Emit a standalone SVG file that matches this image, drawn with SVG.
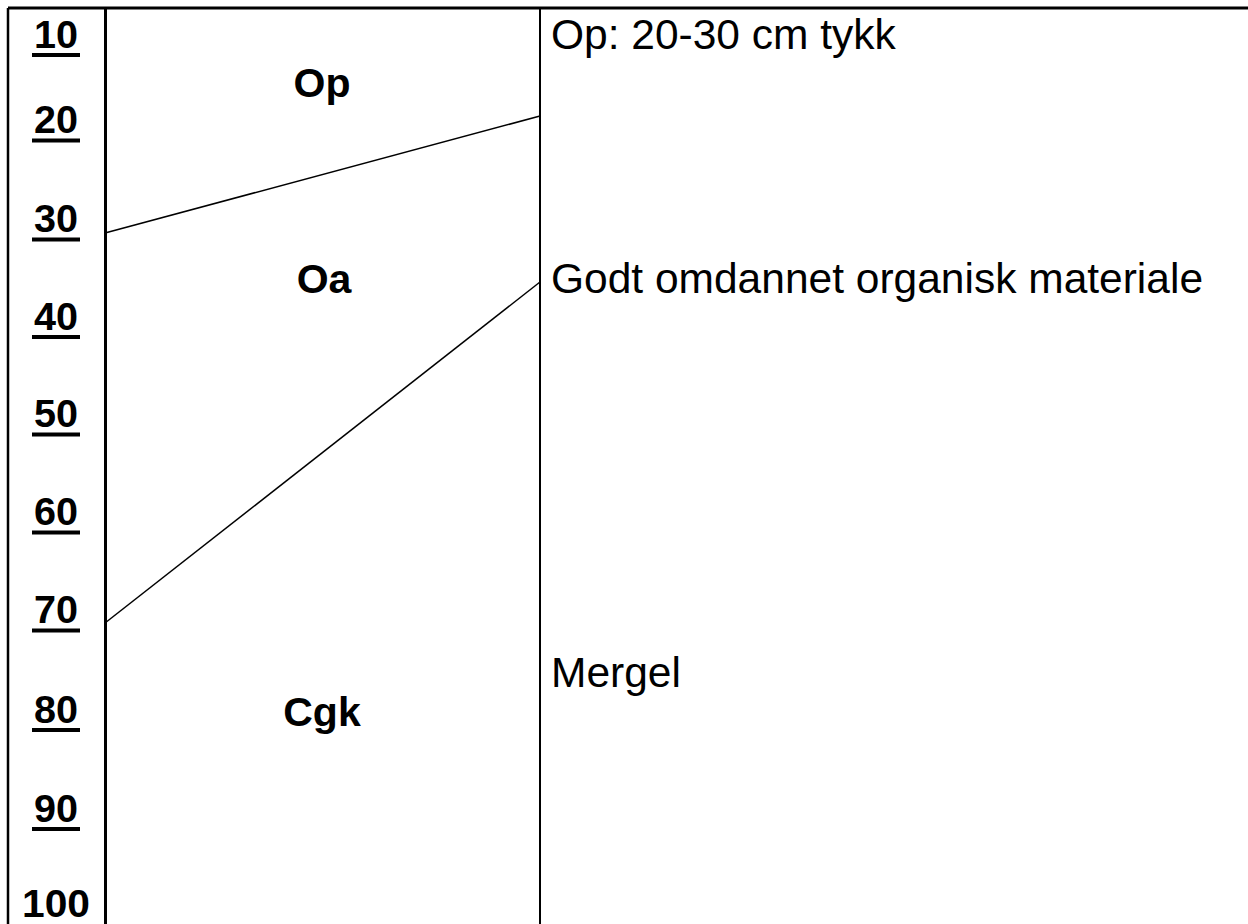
<svg xmlns="http://www.w3.org/2000/svg" width="1248" height="924" viewBox="0 0 1248 924">
<style>
.frame{stroke:#000;fill:none}
.num{font-family:"Liberation Sans",Arial,sans-serif;font-weight:bold;font-size:38px;fill:#000;text-anchor:middle}
.hz{font-family:"Liberation Sans",Arial,sans-serif;font-weight:bold;font-size:41px;fill:#000;text-anchor:middle}
.desc{font-family:"Liberation Sans",Arial,sans-serif;font-size:42.5px;fill:#000}
.ul{fill:#000}
</style>
<rect width="1248" height="924" fill="#fff"/>
<g id="table">
<line class="frame" x1="8" y1="8" x2="1248" y2="8" stroke-width="3"/>
<line class="frame" x1="8" y1="8" x2="8" y2="924" stroke-width="2.5"/>
<line class="frame" x1="105.5" y1="8" x2="105.5" y2="924" stroke-width="3"/>
<line class="frame" x1="540" y1="8" x2="540" y2="924" stroke-width="2"/>
</g>
<g id="scale">
<text class="num" x="56" y="48" textLength="44" lengthAdjust="spacingAndGlyphs">10</text><rect class="ul" x="32" y="53" width="48" height="4"/>
<text class="num" x="56" y="133" textLength="44" lengthAdjust="spacingAndGlyphs">20</text><rect class="ul" x="32" y="138.5" width="48" height="4"/>
<text class="num" x="56" y="232" textLength="44" lengthAdjust="spacingAndGlyphs">30</text><rect class="ul" x="32" y="237.5" width="48" height="4"/>
<text class="num" x="56" y="330" textLength="44" lengthAdjust="spacingAndGlyphs">40</text><rect class="ul" x="32" y="335" width="48" height="4"/>
<text class="num" x="56" y="427" textLength="44" lengthAdjust="spacingAndGlyphs">50</text><rect class="ul" x="32" y="432.5" width="48" height="4"/>
<text class="num" x="56" y="525" textLength="44" lengthAdjust="spacingAndGlyphs">60</text><rect class="ul" x="32" y="530.5" width="48" height="4"/>
<text class="num" x="56" y="623" textLength="44" lengthAdjust="spacingAndGlyphs">70</text><rect class="ul" x="32" y="628.5" width="48" height="4"/>
<text class="num" x="56" y="723" textLength="44" lengthAdjust="spacingAndGlyphs">80</text><rect class="ul" x="32" y="728" width="48" height="4"/>
<text class="num" x="56" y="822" textLength="44" lengthAdjust="spacingAndGlyphs">90</text><rect class="ul" x="32" y="827" width="48" height="4"/>
<text class="num" x="56" y="917" textLength="68" lengthAdjust="spacingAndGlyphs">100</text>
</g>
<g id="connectors" stroke="#000" stroke-width="1.5" fill="none">
<line x1="105" y1="233" x2="540" y2="116"/>
<line x1="105" y1="623" x2="540" y2="282"/>
</g>
<g id="horizon-op"><text class="hz" x="322" y="97">Op</text></g>
<g id="horizon-oa"><text class="hz" x="324" y="293">Oa</text></g>
<g id="horizon-cgk"><text class="hz" x="322" y="726">Cgk</text></g>
<g id="desc-op"><text class="desc" x="551" y="49">Op: 20-30 cm tykk</text></g>
<g id="desc-oa"><text class="desc" x="551" y="293">Godt omdannet organisk materiale</text></g>
<g id="desc-cgk"><text class="desc" x="551" y="687">Mergel</text></g>
</svg>
